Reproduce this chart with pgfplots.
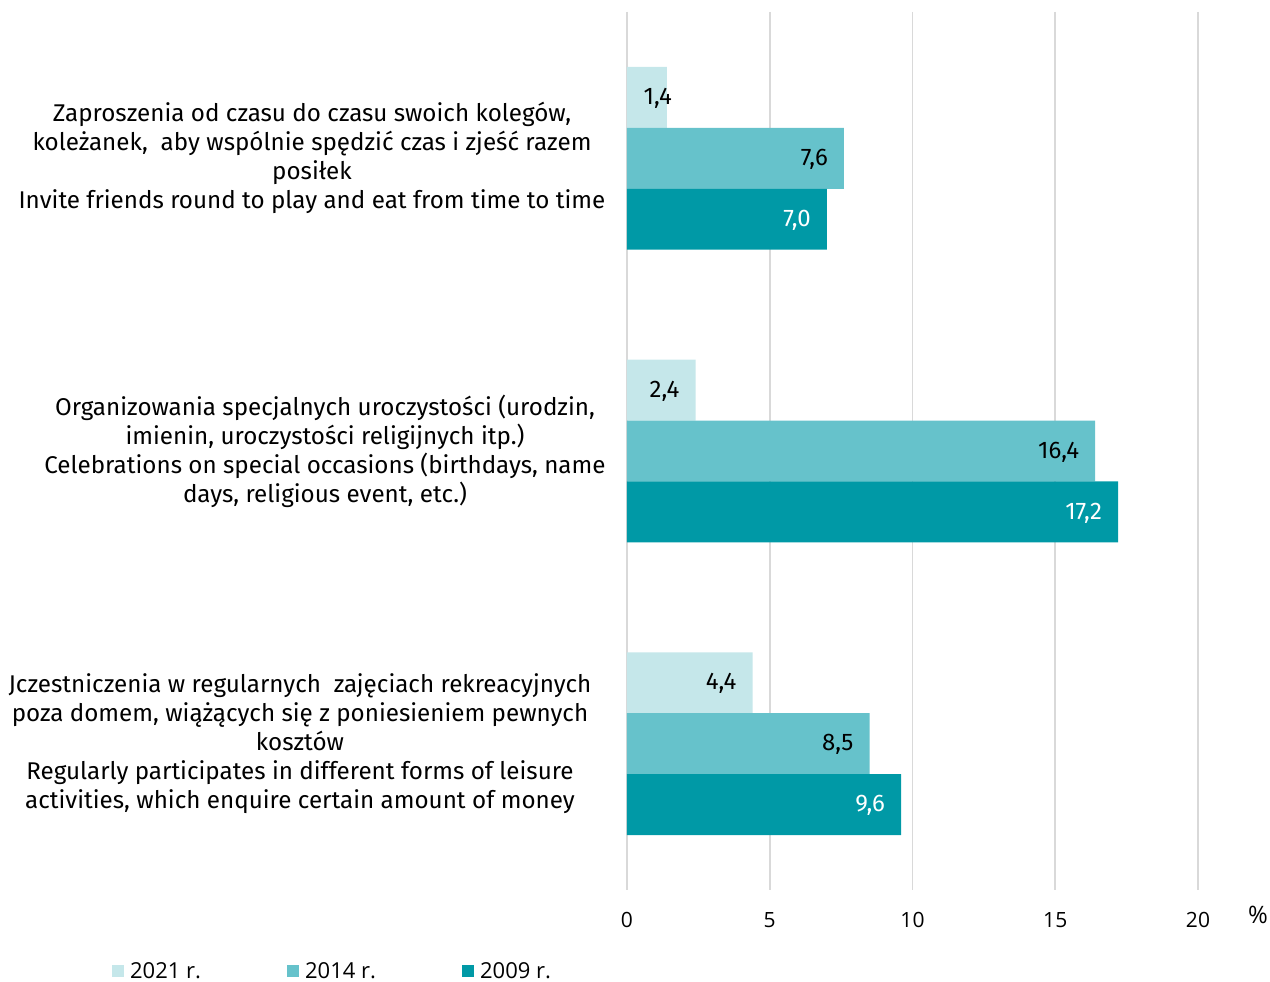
\documentclass[border=0pt]{standalone}
\usepackage{pgfplots}
\pgfplotsset{compat=1.18}
\usepackage{pgfplotstable}
\usepackage{fontspec}
\setmainfont{Fira Sans}
\newfontfamily\tickfont{Open Sans}
\definecolor{cA}{RGB}{197,231,234}
\definecolor{cB}{RGB}{102,194,203}
\definecolor{cC}{RGB}{0,153,166}
\definecolor{gridc}{RGB}{217,217,217}
\pgfplotstableread{
y x dx
0 1.4 5
1 2.4 -16
2 4.4 -16
}\dataA
\pgfplotstableread{
y x dx
0 7.6 -16
1 16.4 -16
2 8.5 -16
}\dataB
\pgfplotstableread{
y x dx
0 7.0 -16
1 17.2 -16
2 9.6 -16
}\dataC
\begin{document}
\begin{tikzpicture}
\useasboundingbox (0,0) rectangle (1270pt,982pt);
\begin{axis}[
  at={(627pt,92pt)}, anchor=south west,
  scale only axis, width=571pt, height=878pt,
  xmin=0, xmax=20, ymin=-0.5, ymax=2.5, y dir=reverse,
  xtick={0,5,10,15,20}, ytick=\empty,
  xmajorgrids, grid style={gridc, line width=1.6pt},
  axis line style={draw=none}, major tick length=0pt,
  /pgf/number format/assume math mode=true,
  xticklabel style={font=\fontsize{21}{25}\selectfont\tickfont, yshift=-19pt},
  xbar, bar width=0.2082,
  point meta=x,
  nodes near coords={\pgfmathprintnumber[use comma,fixed,fixed zerofill,precision=1,assume math mode=true]{\pgfplotspointmeta}},
  every node near coord/.append style={font=\fontsize{24}{28}\selectfont, anchor=east, inner sep=0pt, xshift=\dx pt, yshift=-1pt},
  visualization depends on={\thisrow{dx} \as \dx},
  legend style={at={(rel axis cs:-0.902,-0.0923)}, anchor=west, draw=none, fill=none,
    font=\fontsize{22}{26}\selectfont\tickfont, inner sep=0pt, column sep=0pt,
    nodes={inner sep=0pt}},
  legend columns=3,
  legend image code/.code={\fill[#1, draw=none] (0pt,-6pt) rectangle (12pt,6pt);},
  clip=false,
]
\addplot[fill=cA, draw=none, bar shift=-0.2082, every node near coord/.append style={text=black}] table[x=x,y=y] {\dataA};
\addlegendentry{\hspace*{6pt}\makebox[157pt][l]{2021 r.}}
\addplot[fill=cB, draw=none, bar shift=0, every node near coord/.append style={text=black}] table[x=x,y=y] {\dataB};
\addlegendentry{\hspace*{6pt}\makebox[157pt][l]{2014 r.}}
\addplot[fill=cC, draw=none, bar shift=0.2082, every node near coord/.append style={text=white}] table[x=x,y=y] {\dataC};
\addlegendentry{\hspace*{6pt}\makebox[157pt][l]{2009 r.}}
\node[font=\fontsize{24}{28}\selectfont\tickfont] at (rel axis cs:1.105,-0.0285) {\%};
\node[align=center, font=\fontsize{24.2}{29}\selectfont, xshift=-315pt] at (axis cs:0,0) {Zaproszenia od czasu do czasu swoich kolegów,\\koleżanek,\ \ aby wspólnie spędzić czas i zjeść razem\\posiłek\\Invite friends round to play and eat from time to time};
\node[align=center, font=\fontsize{24.2}{29}\selectfont, xshift=-302pt] at (axis cs:0,1) {Organizowania specjalnych uroczystości (urodzin,\\imienin, uroczystości religijnych itp.)\\Celebrations on special occasions (birthdays, name\\days, religious event, etc.)};
\node[align=center, font=\fontsize{24.2}{29}\selectfont, xshift=-327pt] at (axis cs:0,2) {Jczestniczenia w regularnych\ \ zajęciach rekreacyjnych\\poza domem, wiążących się z poniesieniem pewnych\\kosztów\\Regularly participates in different forms of leisure\\activities, which enquire certain amount of money};
\end{axis}
\end{tikzpicture}
\end{document}
